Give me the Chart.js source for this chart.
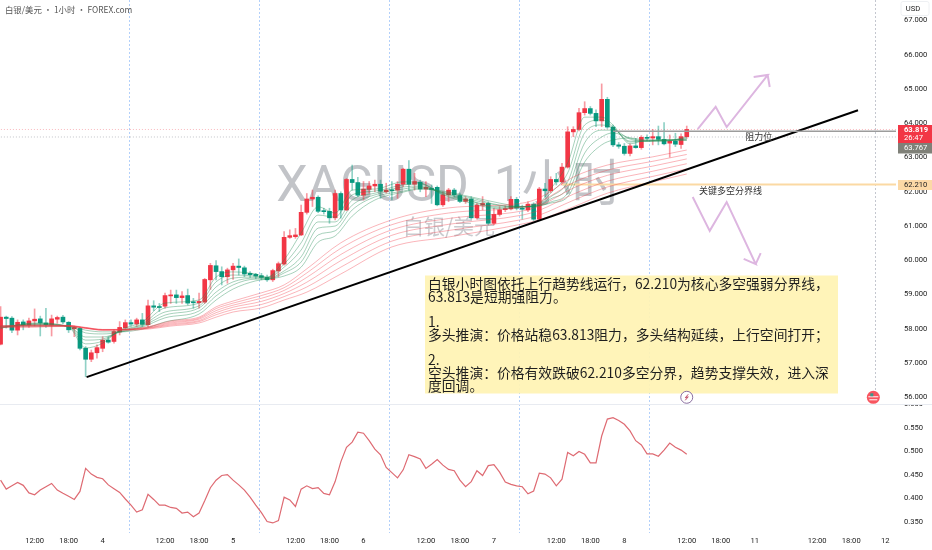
<!DOCTYPE html>
<html lang="zh">
<head>
  <meta charset="UTF-8">
  <title>XAGUSD 1小时</title>
  <script src="https://cdn.jsdelivr.net/npm/chart.js"></script>
  <style>
    html, body { margin: 0; padding: 0; background: #fff; }
    canvas { display: block; }
  </style>
</head>
<body>
  <canvas id="chart" width="932" height="550"></canvas>

  <script>
    // K线：每根一小时
    const opens = [57.55,58.34,58.31,57.96,58.20,58.11,58.23,58.29,58.17,58.11,58.28,58.34,58.19,58.00,58.01,57.43,57.11,57.30,57.43,57.67,57.63,57.91,58.03,58.18,58.14,58.26,58.12,58.67,58.65,58.66,58.96,58.99,58.91,58.97,58.78,58.76,58.78,59.43,59.84,59.67,59.52,59.72,59.83,59.78,59.62,59.59,59.55,59.50,59.43,59.69,59.89,60.67,60.69,60.74,61.40,61.79,61.84,61.45,61.43,61.24,61.95,61.47,62.36,62.27,61.90,62.07,62.17,62.22,62.00,62.05,62.05,62.22,62.66,62.22,62.28,62.08,62.10,62.13,61.62,61.91,62.05,61.89,61.72,61.79,61.24,61.61,61.66,61.08,61.34,61.48,61.50,61.78,61.52,61.47,61.64,61.20,62.08,62.03,62.36,62.29,62.72,63.75,63.82,64.31,64.43,64.29,64.07,64.70,63.89,63.37,63.33,63.12,63.34,63.29,63.59,63.57,63.61,63.53,63.42,63.48,63.38,63.61];
    const highs = [58.65,58.37,58.36,58.26,58.26,58.31,58.58,58.37,58.60,58.40,58.37,58.39,58.21,58.08,58.04,57.48,57.38,57.53,57.77,57.77,57.97,58.21,58.26,58.26,58.31,58.45,58.84,58.82,58.74,59.04,59.13,59.13,59.09,59.16,58.89,59.04,59.47,59.91,59.99,59.81,59.77,59.91,60.04,59.83,59.67,59.62,59.62,59.57,59.74,59.95,60.84,60.89,60.93,61.61,61.95,62.05,61.88,61.52,61.52,62.05,62.00,62.39,62.78,62.42,62.30,62.30,62.34,62.34,62.25,62.30,62.30,62.69,62.91,62.54,62.34,62.30,62.20,62.17,62.00,62.10,62.10,61.96,61.86,61.86,61.66,61.86,61.71,61.52,61.57,61.59,61.86,61.84,61.61,61.71,61.68,62.13,62.25,62.44,62.54,62.83,63.90,63.90,64.44,64.63,64.49,64.39,65.15,64.76,63.95,63.44,63.41,63.40,63.56,63.64,63.66,63.82,63.92,64.02,63.66,63.71,63.69,63.92];
    const lows = [57.53,58.02,57.89,57.82,57.97,58.04,58.08,57.79,58.04,57.79,58.16,58.14,57.89,57.77,57.38,56.60,57.04,57.14,57.33,57.58,57.58,57.82,57.97,58.08,58.06,58.06,58.06,58.53,58.50,58.60,58.74,58.74,58.74,58.70,58.60,58.60,58.74,59.15,59.43,59.28,59.33,59.44,59.57,59.52,59.50,59.46,59.43,59.38,59.38,59.52,59.86,60.64,60.64,60.72,61.35,61.57,61.39,61.35,61.08,61.18,61.23,61.45,62.05,61.86,61.76,61.96,62.00,61.81,61.96,61.76,61.81,62.15,62.05,62.05,62.00,61.86,61.66,61.59,61.57,61.71,61.86,61.68,61.66,61.20,61.20,61.47,61.03,61.03,61.29,61.42,61.47,61.47,61.20,61.42,61.16,61.16,61.86,61.97,62.20,62.20,62.69,63.61,63.78,64.24,64.24,63.90,63.90,63.85,63.32,63.27,63.07,63.05,63.27,63.24,63.49,63.37,63.37,63.37,63.01,63.32,63.27,63.56];
    const closes = [58.34,58.30,57.96,58.19,58.11,58.23,58.28,58.17,58.12,58.29,58.33,58.20,57.97,58.04,57.43,57.11,57.30,57.45,57.67,57.61,57.92,58.04,58.18,58.14,58.26,58.13,58.67,58.63,58.62,58.97,58.98,58.91,58.96,58.75,58.76,58.80,59.44,59.85,59.67,59.52,59.72,59.83,59.79,59.60,59.58,59.54,59.50,59.43,59.70,59.90,60.67,60.72,60.74,61.40,61.79,61.84,61.43,61.42,61.24,61.95,61.47,62.36,62.27,61.90,62.08,62.17,62.22,62.02,62.05,62.03,62.22,62.66,62.22,62.30,62.08,62.13,62.07,61.62,61.91,62.05,61.91,61.72,61.79,61.24,61.61,61.66,61.08,61.34,61.47,61.50,61.78,61.52,61.49,61.64,61.20,62.08,62.03,62.36,62.29,62.72,63.75,63.82,64.31,64.43,64.29,64.07,64.70,63.89,63.37,63.33,63.12,63.34,63.29,63.59,63.56,63.61,63.53,63.40,63.48,63.39,63.61,63.82];

    // 均线带：读图得到的节点
    const fastBars = [0,6,12,15,18,21,25,29,35,38,41,45,47,50,53,56,59,62,66,71,74,78,83,88,92,95,97,100,103,106,108,111,114,117,121];
    const fast1 = [58.02,58.17,58.05,57.44,57.58,57.96,58.20,58.75,58.84,59.51,59.66,59.60,59.51,60.01,60.80,61.56,61.38,62.05,62.08,62.29,62.26,61.91,61.67,61.50,61.56,61.67,62.08,62.84,64.18,64.18,63.95,63.40,63.51,63.48,63.60];
    const fast2 = [58.02,58.15,58.06,57.56,57.64,57.94,58.14,58.61,58.75,59.37,59.57,59.54,59.50,59.89,60.51,61.32,61.26,61.91,62.02,62.20,62.23,61.93,61.72,61.53,61.56,61.64,61.96,62.55,63.95,64.10,63.89,63.45,63.48,63.48,63.57];
    const fast3 = [58.04,58.14,58.07,57.67,57.70,57.92,58.11,58.49,58.67,59.22,59.48,59.51,59.48,59.80,60.30,61.12,61.12,61.76,61.96,62.14,62.17,61.96,61.73,61.56,61.56,61.61,61.85,62.29,63.72,63.95,63.86,63.48,63.48,63.50,63.54];
    const fast4 = [58.05,58.12,58.07,57.76,57.76,57.90,58.08,58.40,58.61,59.07,59.37,59.48,59.47,59.69,60.10,60.94,61.00,61.61,61.91,62.08,62.14,61.97,61.77,61.60,61.56,61.60,61.79,62.11,63.43,63.80,63.80,63.54,63.48,63.50,63.51];
    const fast5 = [58.07,58.11,58.08,57.88,57.85,57.90,58.05,58.32,58.52,58.96,59.28,59.45,59.45,59.63,59.95,60.74,60.86,61.47,61.85,62.02,62.11,61.99,61.82,61.61,61.56,61.59,61.70,61.96,63.13,63.60,63.72,63.57,63.48,63.51,63.51];
    const fast6 = [58.08,58.08,58.08,57.96,57.91,57.91,57.99,58.20,58.43,58.84,59.16,59.40,59.45,59.54,59.80,60.53,60.71,61.29,61.76,61.99,62.08,62.02,61.85,61.67,61.57,61.59,61.67,61.85,62.87,63.37,63.51,63.57,63.51,63.53,63.51];

    const slowBars = [0,6,12,15,18,22,26,30,35,38,41,46,50,54,60,69,79,92,95,101,107,115,121];
    const slow1 = [58.09,58.11,58.10,58.04,57.98,57.99,58.06,58.23,58.34,58.64,58.81,59.05,59.28,59.75,60.51,61.18,61.53,61.67,61.82,62.43,62.78,63.02,63.22];
    const slow2 = [58.08,58.10,58.09,58.03,57.98,57.98,58.05,58.20,58.31,58.59,58.75,58.97,59.20,59.63,60.35,61.04,61.38,61.56,61.70,62.27,62.63,62.89,63.09];
    const slow3 = [58.07,58.09,58.09,58.03,57.97,57.98,58.03,58.17,58.28,58.53,58.69,58.89,59.12,59.50,60.17,60.89,61.22,61.44,61.58,62.11,62.48,62.75,62.96];
    const slow4 = [58.06,58.08,58.08,58.02,57.97,57.97,58.02,58.14,58.24,58.47,58.63,58.80,59.03,59.36,59.99,60.73,61.05,61.32,61.46,61.93,62.31,62.60,62.82];
    const slow5 = [58.05,58.06,58.08,58.02,57.96,57.97,58.01,58.11,58.21,58.41,58.56,58.71,58.94,59.22,59.80,60.56,60.87,61.19,61.32,61.75,62.14,62.45,62.67];
    const slow6 = [58.04,58.05,58.07,58.01,57.96,57.96,57.99,58.08,58.17,58.34,58.49,58.61,58.84,59.07,59.60,60.39,60.68,61.06,61.18,61.56,61.96,62.29,62.52];

    // 副图指标
    const oscValues = [0.439,0.420,0.427,0.434,0.428,0.412,0.408,0.418,0.425,0.432,0.418,0.411,0.405,0.398,0.415,0.464,0.452,0.445,0.442,0.429,0.421,0.413,0.399,0.386,0.371,0.376,0.409,0.398,0.386,0.386,0.381,0.379,0.369,0.371,0.361,0.369,0.395,0.423,0.439,0.449,0.451,0.439,0.429,0.418,0.403,0.386,0.370,0.351,0.348,0.353,0.403,0.397,0.383,0.420,0.427,0.421,0.423,0.411,0.408,0.436,0.478,0.509,0.520,0.541,0.539,0.523,0.505,0.493,0.466,0.455,0.444,0.461,0.493,0.489,0.484,0.464,0.473,0.483,0.471,0.462,0.459,0.439,0.425,0.436,0.459,0.449,0.470,0.472,0.456,0.435,0.430,0.427,0.425,0.410,0.416,0.454,0.452,0.444,0.427,0.441,0.498,0.491,0.500,0.494,0.476,0.476,0.533,0.569,0.572,0.566,0.558,0.544,0.523,0.514,0.495,0.495,0.490,0.503,0.518,0.509,0.503,0.494];

    // 画线
    const trendBars = [15.17, 151.2];
    const trendPrices = [56.59, 64.38];
    const upArrowBars = [122.93,126.1,128.04,135.27,132.8,135.27,135.63];
    const upArrowPrices = [63.83,64.48,63.89,65.41,65.35,65.41,65.06];
    const downArrowBars = [122.05,125.05,128.04,133.16,131.04,133.16,134.04];
    const downArrowPrices = [61.85,60.86,61.70,59.89,60.04,59.89,60.21];
    const resistanceBars = [108, 158];
    const resistancePrice = 63.767;
    const pivotBars = [99, 158];
    const pivotPrice = 62.21;
    const lastPrice = 63.819;
    const prevPrice = 63.6;

    // 坐标轴
    const priceTicks = [56,57,58,59,60,61,62,63,64,65,66,67];
    const oscTicks = [0.35,0.40,0.45,0.50,0.55];
    const timeBars = [6,12,18,29,35,41,52,58,64,75,81,87,98,104,110,121,127,133,144,150,156];
    const timeLabels = ['12:00','18:00','4','12:00','18:00','5','12:00','18:00','6','12:00','18:00','7','12:00','18:00','8','12:00','18:00','11','12:00','18:00','12'];
    const sessionBreaks = [22.57,45.5,68.5,91.4,114.4];
    const futureBreak = 154.2;

    const noteLines = [
      '白银小时图依托上行趋势线运行，62.210为核心多空强弱分界线，',
      '63.813是短期强阻力。',
      '',
      '1.',
      '多头推演：价格站稳63.813阻力，多头结构延续，上行空间打开；',
      '',
      '2.',
      '空头推演：价格有效跌破62.210多空分界，趋势支撑失效，进入深',
      '度回调。'
    ];

    const RED = '#F23645';
    const GREEN = '#089981';
    const AXIS_FONT = 'Roboto, "Liberation Sans", sans-serif';
    const CJK_FONT = '"Noto Sans CJK SC", sans-serif';

    function pts(xs, ys) {
      return xs.map((x, k) => ({ x: x, y: ys[k] }));
    }
    function hLine(xs, price) {
      return xs.map(x => ({ x: x, y: price }));
    }
    function ribbon(xs, ys, color) {
      return {
        type: 'line', data: pts(xs, ys), borderColor: color, borderWidth: 1,
        pointRadius: 0, cubicInterpolationMode: 'monotone', order: 2
      };
    }
    function drawing(data, color, width, dash, order) {
      return {
        type: 'line', data: data, borderColor: color, borderWidth: width,
        borderDash: dash || [], pointRadius: 0, order: order || 1
      };
    }
    // y轴的 tick padding 不要算进布局
    function fitPriceAxis(s) {
      s.width = 36;
      s.paddingTop = 0;
      s.paddingBottom = 0;
    }

    const barIndex = opens.map((o, i) => i);
    const upOrDown = (alphaUp, alphaDown) => opens.map((o, i) => closes[i] >= o ? alphaUp : alphaDown);

    const greenLine = 'rgba(34,139,84,0.4)';
    const redLine = 'rgba(242,54,69,0.37)';

    const datasets = [
      // 影线
      {
        type: 'bar', data: barIndex.map(i => ({ x: i, y: [lows[i], highs[i]] })),
        backgroundColor: upOrDown('rgba(242,54,69,0.5)', 'rgba(8,153,129,0.45)'),
        barThickness: 1, grouped: false, order: 5
      },
      // 实体
      {
        type: 'bar', data: barIndex.map(i => ({ x: i, y: [opens[i], closes[i]] })),
        backgroundColor: upOrDown(RED, GREEN),
        barThickness: 4, minBarLength: 1, grouped: false, order: 4
      },
      ribbon(slowBars, slow1, redLine), ribbon(slowBars, slow2, redLine), ribbon(slowBars, slow3, redLine),
      ribbon(slowBars, slow4, redLine), ribbon(slowBars, slow5, redLine), ribbon(slowBars, slow6, redLine),
      ribbon(fastBars, fast1, greenLine), ribbon(fastBars, fast2, greenLine), ribbon(fastBars, fast3, greenLine),
      ribbon(fastBars, fast4, greenLine), ribbon(fastBars, fast5, greenLine), ribbon(fastBars, fast6, greenLine),
      drawing(hLine([-1, 158], lastPrice), 'rgba(242,54,69,0.35)', 1, [1, 2], 6),
      drawing(hLine([-1, 158], prevPrice), 'rgba(120,123,134,0.45)', 1, [1, 2], 6),
      drawing(hLine(pivotBars, pivotPrice), '#FBD9A3', 2, [], 3),
      drawing(hLine(resistanceBars, resistancePrice), '#9C9C9C', 1.5, [], 1),
      drawing(pts(trendBars, trendPrices), '#000000', 2, [], 1),
      drawing(pts(upArrowBars, upArrowPrices), '#DDB6E0', 2, [], 1),
      drawing(pts(downArrowBars, downArrowPrices), '#DDB6E0', 2, [], 1),
      {
        type: 'line', yAxisID: 'y2', data: pts(barIndex, oscValues), borderColor: '#DE6A72',
        borderWidth: 1.2, pointRadius: 0, order: 1
      }
    ];

    // 背景：水印和分时竖线
    const backdrop = {
      id: 'backdrop',
      beforeDatasetsDraw(chart) {
        const c = chart.ctx, x = chart.scales.x;
        c.save();
        c.textAlign = 'center';
        c.textBaseline = 'middle';
        c.fillStyle = '#C2C4C8';
        c.font = '50px Roboto, ' + CJK_FONT;
        c.fillText('XAGUSD  1小时', 449, 188);
        c.font = '21px ' + CJK_FONT;
        c.fillStyle = '#CACBCF';
        c.fillText('白银/美元', 449, 226);

        c.lineWidth = 1;
        c.setLineDash([2, 2]);
        c.strokeStyle = '#B3D0FA';
        sessionBreaks.forEach(b => {
          const px = Math.round(x.getPixelForValue(b)) + 0.5;
          c.beginPath(); c.moveTo(px, 0); c.lineTo(px, chart.chartArea.bottom); c.stroke();
        });
        c.strokeStyle = '#C4C7CF';
        const fx = Math.round(x.getPixelForValue(futureBreak)) + 0.5;
        c.beginPath(); c.moveTo(fx, 0); c.lineTo(fx, chart.scales.y.bottom - 14); c.stroke();
        c.restore();
      }
    };

    // 文字标注、价格标签
    const overlay = {
      id: 'overlay',
      afterDraw(chart) {
        const c = chart.ctx, x = chart.scales.x, y = chart.scales.y;
        c.save();

        // 分隔线
        c.strokeStyle = '#E8EBF1';
        c.lineWidth = 1;
        c.beginPath(); c.moveTo(0, y.bottom + 0.5); c.lineTo(932, y.bottom + 0.5); c.stroke();

        // 说明框
        c.fillStyle = 'rgba(255,243,180,0.93)';
        c.fillRect(425, 275.5, 413, 118);
        c.fillStyle = '#1f1f1f';
        c.font = '13.8px ' + CJK_FONT;
        c.textAlign = 'left';
        c.textBaseline = 'middle';
        noteLines.forEach((t, k) => c.fillText(t, 428, 284 + k * 12.7));

        // 线上文字
        c.font = '9px ' + CJK_FONT;
        c.fillStyle = '#333';
        c.textAlign = 'center';
        c.fillText('阻力位', x.getPixelForValue(133.7), y.getPixelForValue(63.6));
        c.fillText('关键多空分界线', x.getPixelForValue(128.7), y.getPixelForValue(62.04));

        // 右侧价格标签
        c.fillStyle = RED;
        c.fillRect(898, 125, 34, 18);
        c.fillStyle = '#7F8078';
        c.fillRect(898, 143, 34, 10.5);
        c.fillStyle = '#FCD9A6';
        c.fillRect(898, 180, 34, 10);
        c.font = 'bold 7.6px ' + AXIS_FONT;
        c.textAlign = 'left';
        c.fillStyle = '#fff';
        c.fillText(lastPrice.toFixed(3), 904, 130);
        c.font = '7.6px ' + AXIS_FONT;
        c.fillText('26:47', 904, 138);
        c.fillText(resistancePrice.toFixed(3), 904, 148.5);
        c.fillStyle = '#222';
        c.fillText(pivotPrice.toFixed(3), 904, 185.3);

        // 币种框
        c.fillStyle = '#fff';
        c.strokeStyle = '#EEF0F3';
        c.beginPath(); c.roundRect(901, 1.5, 28, 14, 2); c.fill(); c.stroke();
        c.fillStyle = '#222';
        c.textAlign = 'center';
        c.fillText('USD', 913, 9.5);

        // 事件图标
        const iy = y.getPixelForValue(56.0);
        const ix = x.getPixelForValue(121);
        c.fillStyle = '#fff';
        c.strokeStyle = '#8A6FA0';
        c.lineWidth = 1;
        c.beginPath(); c.arc(ix, iy, 6, 0, Math.PI * 2); c.fill(); c.stroke();
        c.strokeStyle = '#C2506A';
        c.beginPath(); c.moveTo(ix + 1.5, iy - 3); c.lineTo(ix - 1.5, iy + 0.5); c.lineTo(ix + 1.5, iy - 0.5); c.lineTo(ix - 1.5, iy + 3); c.stroke();

        const rx = x.getPixelForValue(153.9);
        c.fillStyle = '#F8555F';
        c.beginPath(); c.arc(rx, iy, 6.5, 0, Math.PI * 2); c.fill();
        c.fillStyle = '#fff';
        c.fillRect(rx - 5, iy - 1, 10, 1);
        c.fillRect(rx - 4, iy + 2, 8, 1);
        c.fillStyle = '#3A9A8C';
        c.fillRect(rx - 3, iy - 4, 3, 3);

        // 顶部标题
        c.fillStyle = '#555';
        c.textAlign = 'left';
        c.font = '8.4px ' + CJK_FONT;
        c.fillText('白银/美元 • 1小时 • FOREX.com', 5, 10);

        // 副图最高刻度被分隔线切掉一半
        c.beginPath(); c.rect(897, y.bottom + 1, 35, 10); c.clip();
        c.fillStyle = '#222';
        c.font = '7.6px ' + AXIS_FONT;
        c.fillText('0.600', 904, chart.scales.y2.getPixelForValue(0.6));
        c.restore();
      }
    };

    new Chart(document.getElementById('chart'), {
      type: 'bar',
      data: { datasets: datasets },
      options: {
        responsive: false,
        animation: false,
        events: [],
        layout: { padding: 0, autoPadding: false },
        plugins: { legend: { display: false }, tooltip: { enabled: false } },
        scales: {
          x: {
            type: 'linear', offset: false, min: -0.1, max: 157.9,
            grid: { display: false, drawTicks: false }, border: { display: false },
            afterBuildTicks: s => { s.ticks = timeBars.map(v => ({ value: v })); },
            afterFit: s => { s.height = 17; s.paddingLeft = 0; s.paddingRight = 0; },
            ticks: {
              autoSkip: false, maxRotation: 0, padding: 4, color: '#222',
              font: { family: AXIS_FONT, size: 7.6 },
              callback: v => timeLabels[timeBars.indexOf(v)]
            }
          },
          y: {
            position: 'right', stack: 'panes', stackWeight: 404, weight: 1,
            min: 55.804, max: 67.6,
            grid: { display: false, drawTicks: false }, border: { display: false },
            afterBuildTicks: s => { s.ticks = priceTicks.map(v => ({ value: v })); },
            afterFit: fitPriceAxis,
            ticks: {
              autoSkip: false, padding: 8, crossAlign: 'near', color: '#222',
              font: { family: AXIS_FONT, size: 7.6 },
              callback: v => v.toFixed(3)
            }
          },
          y2: {
            position: 'right', stack: 'panes', stackWeight: 129, weight: 2,
            min: 0.3266, max: 0.6011,
            grid: { display: false, drawTicks: false }, border: { display: false },
            afterBuildTicks: s => { s.ticks = oscTicks.map(v => ({ value: v })); },
            afterFit: fitPriceAxis,
            ticks: {
              autoSkip: false, padding: 8, crossAlign: 'near', color: '#222',
              font: { family: AXIS_FONT, size: 7.6 },
              callback: v => v.toFixed(3)
            }
          }
        }
      },
      plugins: [backdrop, overlay]
    });
  </script>
</body>
</html>
